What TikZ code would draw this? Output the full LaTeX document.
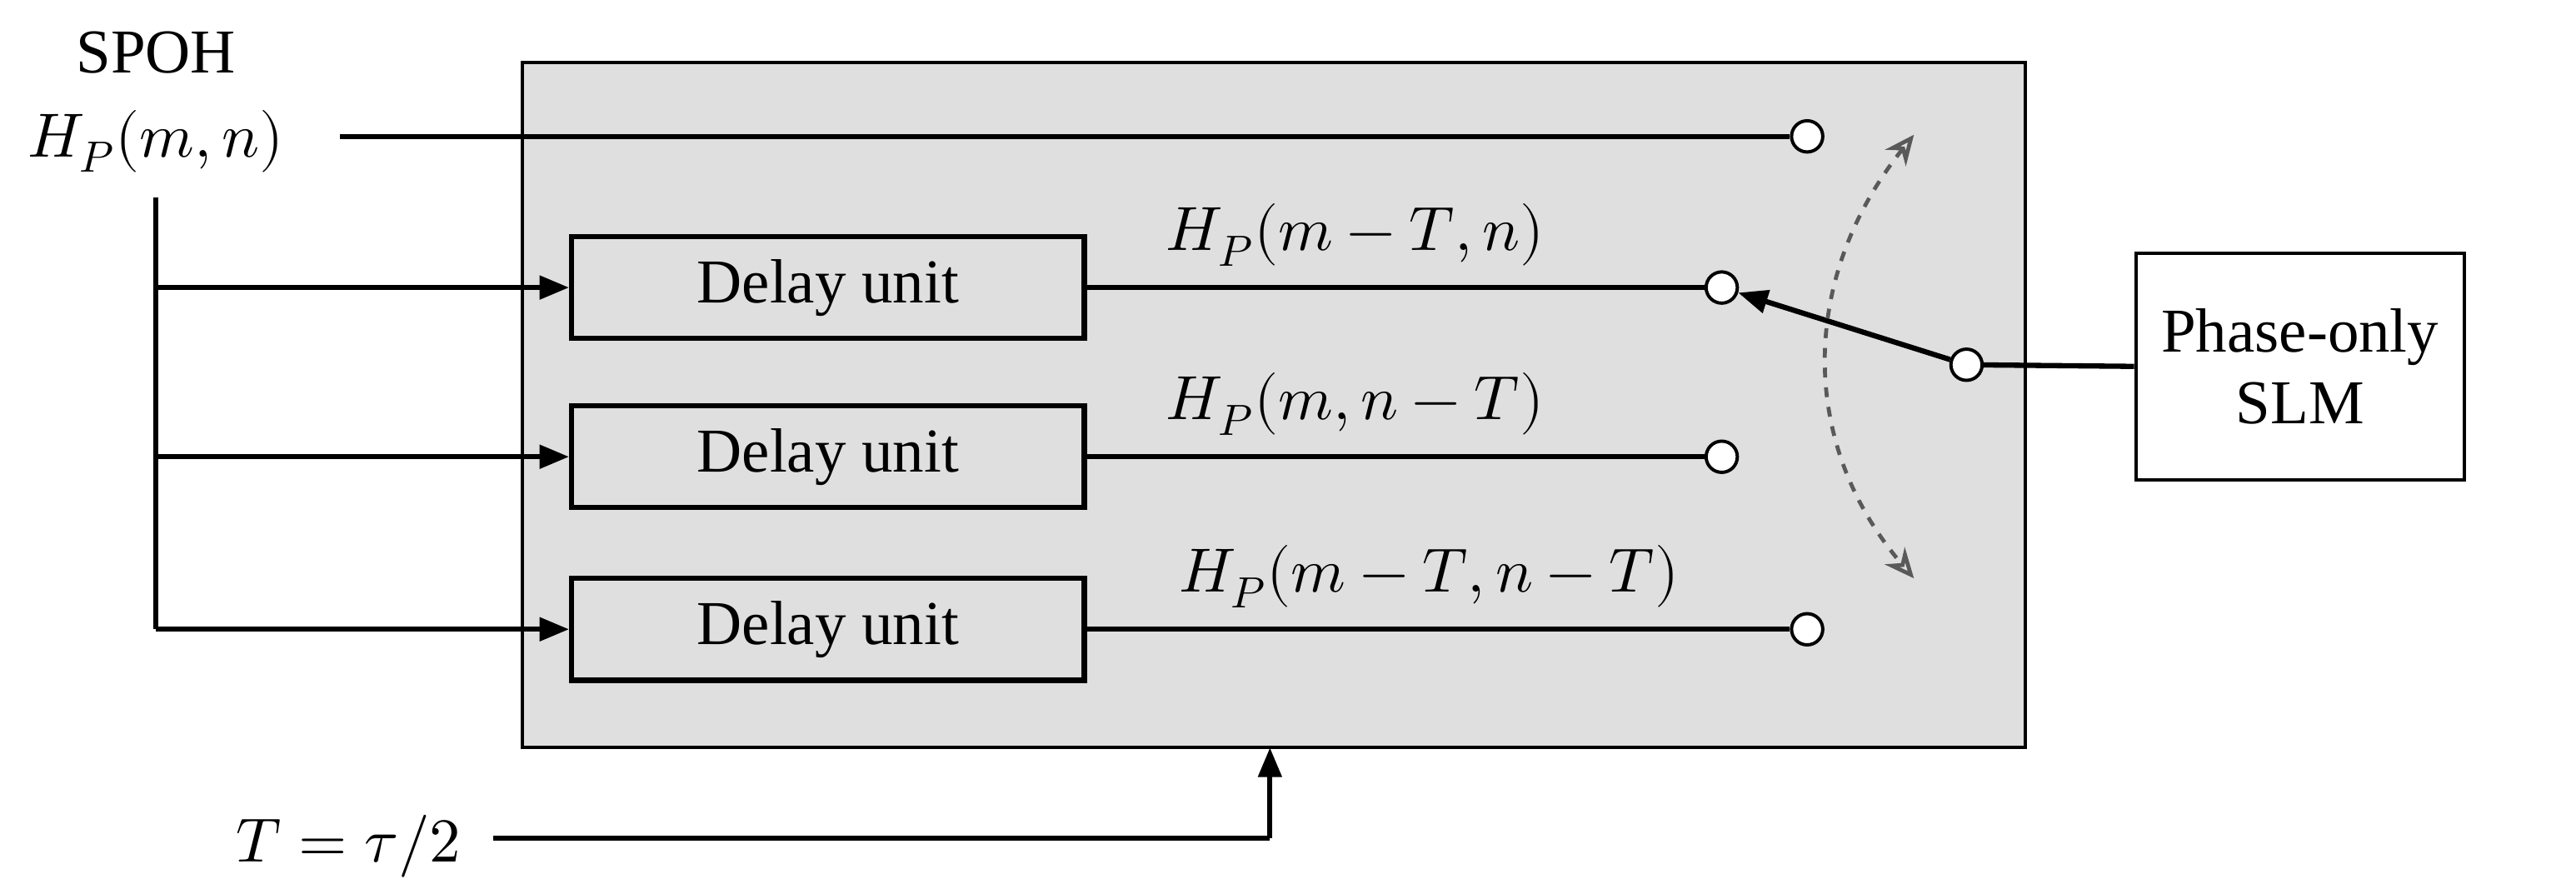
\documentclass[tikz,border=0pt]{standalone}
\usepackage{fontspec}
\usepackage{unicode-math}
\setmainfont{Liberation Serif}
\setmathfont{Latin Modern Math}
\usetikzlibrary{arrows.meta}
\begin{document}
\begin{tikzpicture}[x=0.5pt,y=-0.5pt,
  ln/.style={line width=1.6pt},
  arr/.style={ln,-{Triangle[length=9pt,width=7pt]}},
  dbox/.style={draw,ln,fill=gray!25,minimum width=156pt,minimum height=31pt,font=\fontsize{19}{22}\selectfont},
  term/.style={draw,line width=1pt,fill=white,circle,inner sep=0pt,minimum size=9.5pt},
  lbl/.style={font=\fontsize{19}{22}\selectfont}]
\useasboundingbox (0,0) rectangle (1568,541);
\node[draw,line width=1pt,fill=gray!25,minimum width=457.5pt,minimum height=208.5pt,inner sep=0pt] (main) at (775.5,246.5) {};
\node[lbl] (spoh) at (95,32) {SPOH};
\node[lbl] (hp) at (95,86) {$H_P(m,n)$};
\node[lbl] (tt) at (212,515) {$T=\tau/2$};
\coordinate (a) at (207,83);
\coordinate (v0) at (95,120);
\coordinate (v3) at (95,383);
\node[dbox] (d1) at (504,175) {Delay unit};
\node[dbox] (d2) at (504,278) {Delay unit};
\node[dbox] (d3) at (504,383) {Delay unit};
\node[term] (c0) at (1100,83) {};
\node[term] (c1) at (1048,175) {};
\node[term] (c2) at (1048,278) {};
\node[term] (c3) at (1100,383) {};
\node[term] (cs) at (1197,222) {};
\node[draw,line width=1pt,fill=white,minimum width=100pt,minimum height=69pt,align=center,lbl] (slm) at (1400,223) {Phase-only\\SLM};
\draw[ln] (a) -- (c0);
\draw[ln] (v0) -- (v3);
\draw[arr] (95,175) -- (d1.west);
\draw[arr] (95,278) -- (d2.west);
\draw[arr] (v3) -- (d3.west);
\draw[ln] (d1.east) -- (c1);
\draw[ln] (d2.east) -- (c2);
\draw[ln] (d3.east) -- (c3);
\node[lbl] at (825,143) {$H_P(m-T,n)$};
\node[lbl] at (825,246) {$H_P(m,n-T)$};
\node[lbl] at (870,351) {$H_P(m-T,n-T)$};
\draw[arr] (cs) -- (c1);
\draw[ln] (cs) -- (slm.west);
\draw[gray!70!black,line width=1.2pt,dashed,{Stealth[open,length=9pt,width=8pt]}-{Stealth[open,length=9pt,width=8pt]}] (1165,82) .. controls (1095,170) and (1095,270) .. (1165,352);
\coordinate (tb) at (773,510);
\draw[ln] (300,510) -- (tb);
\draw[arr] (tb) -- (773,455);
\end{tikzpicture}
\end{document}
